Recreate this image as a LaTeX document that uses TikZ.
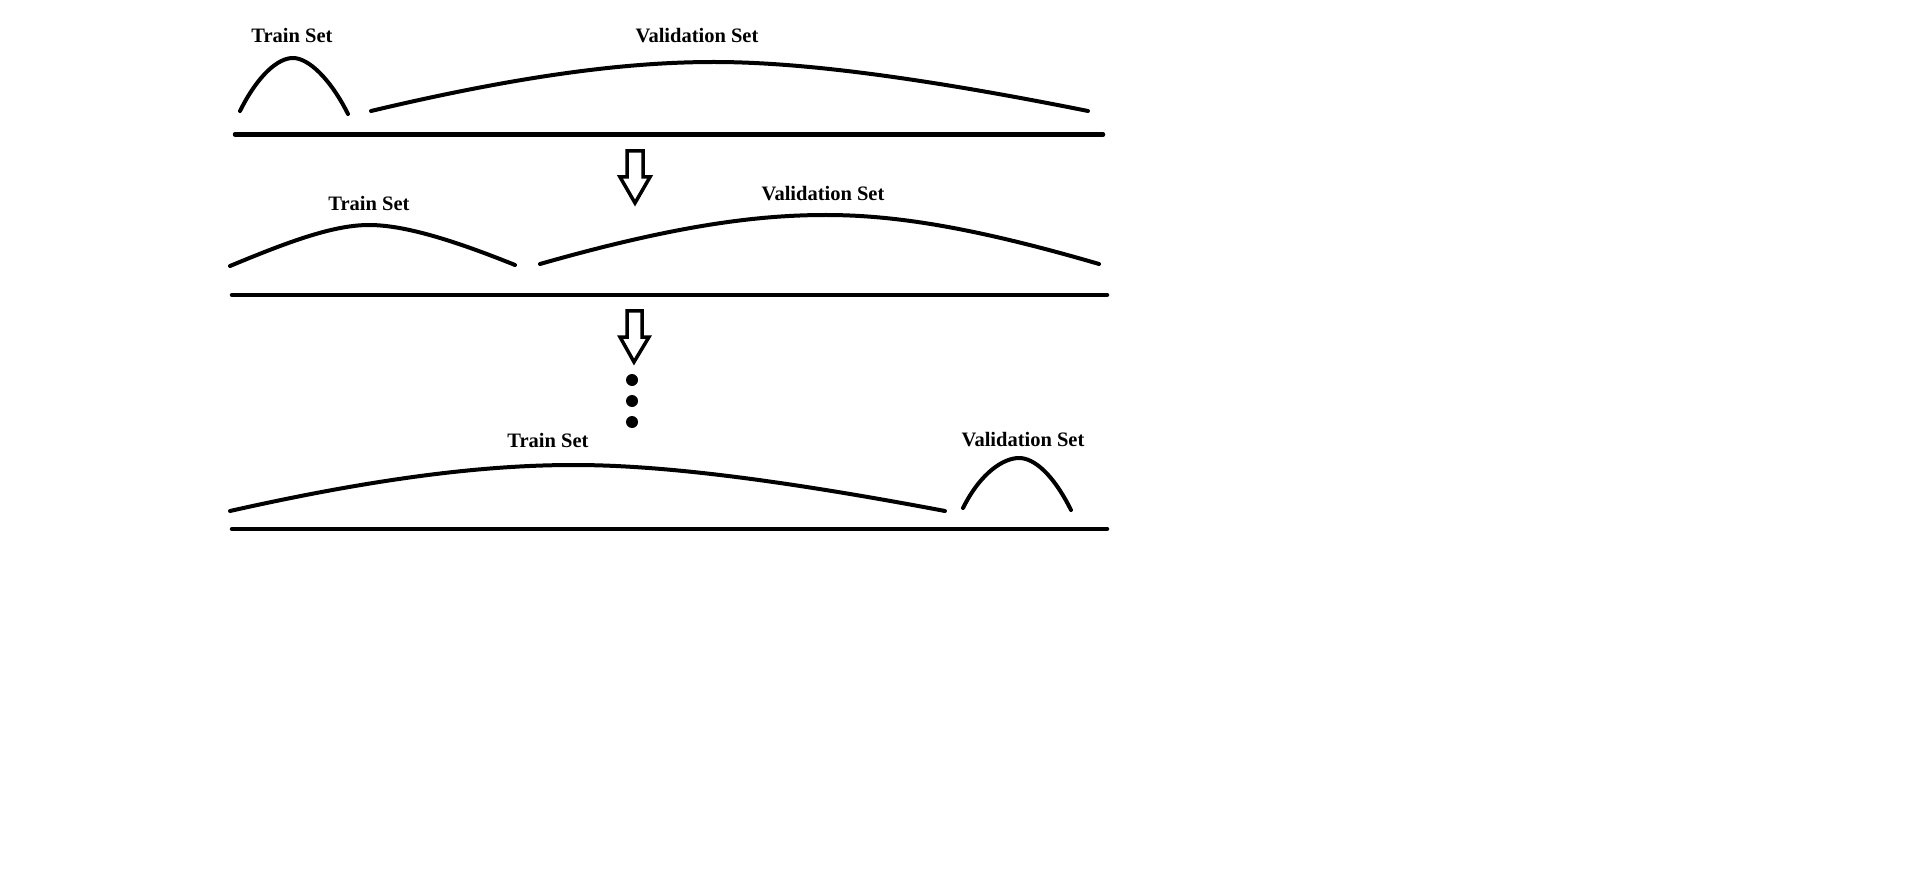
\documentclass[tikz,border=0pt]{standalone}
\usepackage{fontspec}
\setmainfont{Liberation Serif}
\usepackage{tikz}
\usetikzlibrary{positioning}

\begin{document}
\begin{tikzpicture}[x=1pt,y=-1pt,
  base/.style={line width=4.5pt, line cap=round},
  curve/.style={line width=4pt, line cap=round},
  setlabel/.style={font=\fontsize{20.5}{24}\selectfont\bfseries},
  downarrow/.style={line width=3.5pt, miter limit=10}]
  \useasboundingbox (0,0) rectangle (1914,885);

  % first split
  \node[setlabel](train_a) at (292,35) {Train Set};
  \node[setlabel](val_a) at (697,36) {Validation Set};
  \draw[curve] (240,111) .. controls +(18,-36) and +(-15,0) .. (293,58)
    .. controls +(15,0) and +(-18,-36) .. (348,114);
  \draw[curve] (371,111) .. controls +(160,-38) and +(-80,0) .. (714,62)
    .. controls +(80,0) and +(-180,-36) .. (1088,111);
  \draw[base] (235,134.5) -- (1103,134.5);

  \draw[downarrow] (627,151) -- (643,151) -- (643,177) -- (650,177) -- (635,203) -- (620,177) -- (627,177) -- cycle;

  % second split
  \node[setlabel](train_b) at (369,203) {Train Set};
  \node[setlabel](val_b) at (823,194) {Validation Set};
  \draw[curve] (230,266) .. controls +(60,-25) and +(-35,0) .. (369,225)
    .. controls +(35,0) and +(-62,-25) .. (515,265);
  \draw[curve] (540,264) .. controls +(140,-40) and +(-65,0) .. (826,215)
    .. controls +(65,0) and +(-130,-38) .. (1099,264);
  \draw[base] (232,295) -- (1107,295);

  \draw[downarrow] (627,311) -- (642,311) -- (642,337) -- (649,337) -- (634,362) -- (620,337) -- (627,337) -- cycle;

  \foreach \y in {380,401,422}
    \fill (632,\y) circle (6);

  % last split
  \node[setlabel](train_c) at (548,440) {Train Set};
  \node[setlabel](val_c) at (1023,440) {Validation Set};
  \draw[curve] (230,511) .. controls +(160,-36) and +(-80,0) .. (574,465)
    .. controls +(80,0) and +(-180,-34) .. (945,511);
  \draw[curve] (963,508) .. controls +(18,-36) and +(-15,0) .. (1019,458)
    .. controls +(15,0) and +(-18,-36) .. (1071,510);
  \draw[base] (232,529) -- (1107,529);
\end{tikzpicture}
\end{document}
